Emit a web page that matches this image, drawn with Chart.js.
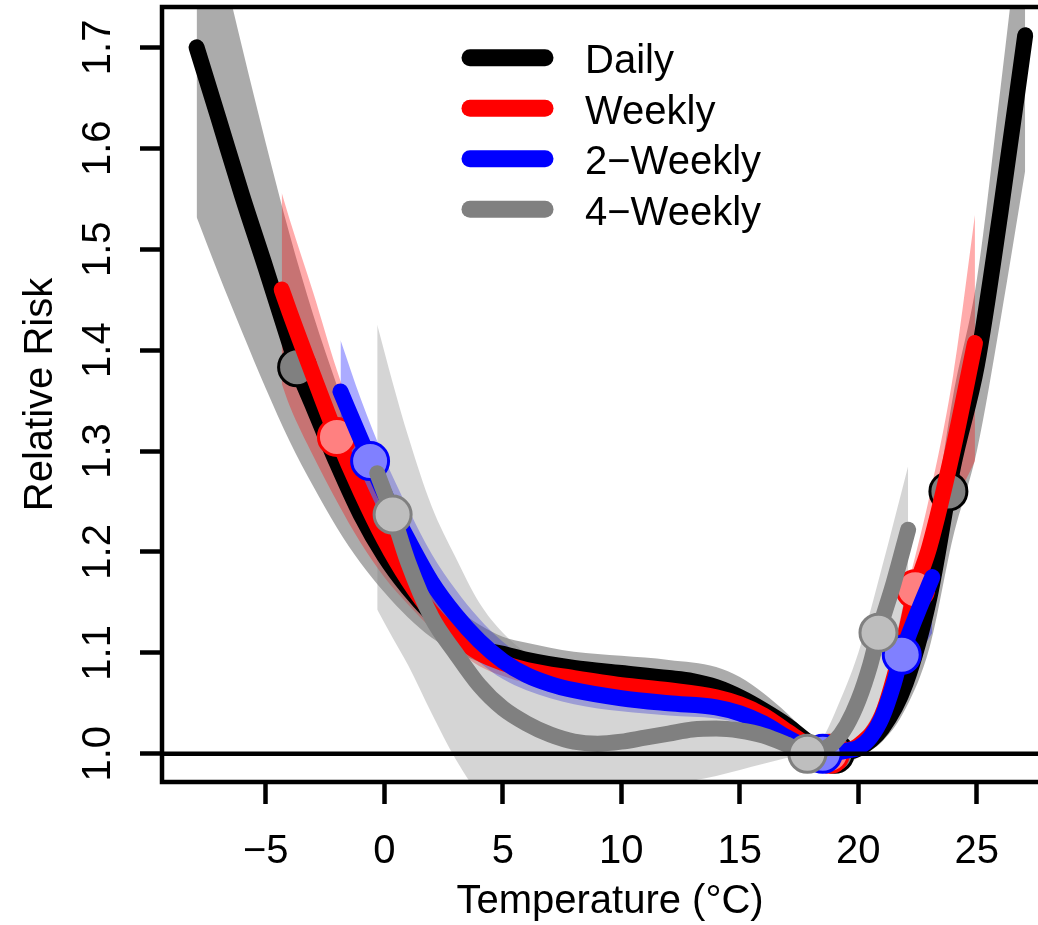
<!DOCTYPE html>
<html>
<head>
<meta charset="utf-8">
<title>Relative Risk by Temperature</title>
<script src="https://cdn.jsdelivr.net/npm/chart.js@4.4.1/dist/chart.umd.min.js"></script>
<style>
	html, body { margin: 0; padding: 0; background: #fff; }
	#chart { display: block; }
</style>
</head>
<body>
<canvas id="chart" width="1038" height="925"></canvas>
<script>
	// Axis ticks
	const xTicks      = [-5, 0, 5, 10, 15, 20, 25];
	const xTickLabels = ['\u22125', '0', '5', '10', '15', '20', '25'];
	const yTicks      = [1.0, 1.1, 1.2, 1.3, 1.4, 1.5, 1.6, 1.7];
	const yTickLabels = ['1.0', '1.1', '1.2', '1.3', '1.4', '1.5', '1.6', '1.7'];
	const refRR       = 1.0;

	const seriesNames = ['Daily', 'Weekly', '2\u2212Weekly', '4\u2212Weekly'];

	// Daily
	const dailyX  = [-7.92, -7, -6, -5, -4, -3.68, -3, -2, -1, 0, 1, 2, 3, 4, 5, 6, 8, 10, 12, 13, 14, 15, 16, 17, 18, 19, 20, 21, 22, 23, 24, 25, 26, 27.04];
	const dailyRR = [1.700, 1.630, 1.553, 1.481, 1.407, 1.383, 1.344, 1.288, 1.237, 1.196, 1.164, 1.138, 1.117, 1.104, 1.099, 1.093, 1.085, 1.080, 1.075, 1.072, 1.066, 1.056, 1.043, 1.028, 1.010, 1.000, 1.005, 1.025, 1.070, 1.155, 1.285, 1.385, 1.537, 1.712];
	const dailyBandX  = [-7.92, -7, -6, -5, -4, -3, -2, -1, 0, 1, 2, 3, 4, 5, 6, 8, 10, 12, 14, 15, 16, 17, 18, 19, 20, 21, 22, 23, 24, 25, 26, 27.04];
	const dailyLow    = [1.532, 1.476, 1.418, 1.362, 1.310, 1.265, 1.224, 1.189, 1.160, 1.135, 1.115, 1.101, 1.091, 1.084, 1.079, 1.071, 1.065, 1.060, 1.050, 1.040, 1.028, 1.015, 1.004, 1.000, 1.000, 1.012, 1.045, 1.105, 1.215, 1.300, 1.430, 1.578];
	const dailyHigh   = [1.900, 1.800, 1.700, 1.605, 1.515, 1.435, 1.365, 1.300, 1.245, 1.200, 1.168, 1.145, 1.128, 1.116, 1.110, 1.101, 1.097, 1.093, 1.086, 1.076, 1.060, 1.040, 1.017, 1.000, 1.011, 1.040, 1.098, 1.208, 1.355, 1.470, 1.660, 1.870];
	const dailyMarkX  = [-3.68, 19.0, 23.8];
	const dailyMarkRR = [1.383, 1.0, 1.26];

	// Weekly
	const weeklyX  = [-4.33, -4, -3, -2, -1, 0, 1, 2, 3, 4, 5, 6, 8, 10, 12, 14, 15, 16, 17, 18, 18.8, 19.5, 20, 21, 22, 22.4, 23, 24, 24.92];
	const weeklyRR = [1.460, 1.438, 1.375, 1.314, 1.260, 1.212, 1.172, 1.140, 1.117, 1.100, 1.090, 1.083, 1.075, 1.068, 1.063, 1.056, 1.049, 1.038, 1.022, 1.007, 1.000, 1.003, 1.008, 1.038, 1.120, 1.162, 1.205, 1.302, 1.407];
	const weeklyBandX = [-4.33, -4, -3, -2, -1, 0, 1, 2, 3, 4, 5, 6, 8, 10, 12, 14, 15, 16, 17, 18, 18.8, 19.5, 20, 21, 22, 23, 24, 24.92];
	const weeklyLow   = [1.367, 1.345, 1.295, 1.250, 1.209, 1.175, 1.148, 1.124, 1.104, 1.087, 1.077, 1.070, 1.062, 1.055, 1.050, 1.044, 1.038, 1.028, 1.015, 1.003, 1.000, 0.999, 1.000, 1.018, 1.085, 1.160, 1.242, 1.290];
	const weeklyHigh  = [1.556, 1.530, 1.457, 1.380, 1.313, 1.251, 1.198, 1.158, 1.131, 1.114, 1.103, 1.096, 1.088, 1.081, 1.077, 1.069, 1.061, 1.049, 1.030, 1.011, 1.000, 1.007, 1.016, 1.060, 1.158, 1.255, 1.375, 1.534];
	const weeklyMarkX  = [-2.0, 18.8, 22.4];
	const weeklyMarkRR = [1.314, 1.0, 1.163];

	// 2-Weekly
	const weekly2X  = [-1.85, -1, -0.6, 0, 1, 2, 3, 4, 5, 6, 7, 8, 10, 12, 14, 15, 16, 17, 18, 18.5, 19, 19.5, 20, 20.5, 21, 21.5, 21.83, 22.5, 23.12];
	const weekly2RR = [1.359, 1.312, 1.290, 1.258, 1.212, 1.170, 1.138, 1.112, 1.092, 1.078, 1.069, 1.063, 1.055, 1.050, 1.046, 1.040, 1.030, 1.016, 1.004, 1.000, 1.001, 1.003, 1.006, 1.016, 1.036, 1.070, 1.098, 1.140, 1.175];
	const weekly2BandX = [-1.85, -1, 0, 1, 2, 3, 4, 5, 6, 8, 10, 12, 14, 15, 16, 17, 18, 18.5, 19, 20, 21, 22, 23.12];
	const weekly2Low   = [1.310, 1.272, 1.224, 1.182, 1.144, 1.114, 1.091, 1.074, 1.063, 1.049, 1.042, 1.038, 1.035, 1.030, 1.022, 1.011, 1.002, 1.000, 0.998, 0.999, 1.018, 1.075, 1.120];
	const weekly2High  = [1.410, 1.352, 1.293, 1.243, 1.198, 1.163, 1.134, 1.111, 1.095, 1.078, 1.068, 1.062, 1.058, 1.050, 1.038, 1.021, 1.006, 1.000, 1.004, 1.014, 1.056, 1.140, 1.232];
	const weekly2MarkX  = [-0.6, 18.5, 21.83];
	const weekly2MarkRR = [1.290, 1.0, 1.098];

	// 4-Weekly
	const weekly4X  = [-0.3, 0.35, 1, 2, 3, 4, 5, 6, 7, 8, 9, 10, 11, 12, 13, 14, 15, 16, 17, 17.85, 18.5, 19, 19.5, 20, 20.5, 20.85, 21.5, 22.1];
	const weekly4RR = [1.278, 1.237, 1.190, 1.135, 1.100, 1.068, 1.045, 1.030, 1.019, 1.012, 1.010, 1.012, 1.016, 1.020, 1.024, 1.025, 1.023, 1.018, 1.009, 1.000, 1.004, 1.012, 1.028, 1.053, 1.088, 1.120, 1.170, 1.222];
	const weekly4BandX = [-0.3, 0.35, 1, 2, 3, 4, 5, 6, 8, 10, 12, 13, 14, 15, 16, 17, 17.85, 18.5, 19, 20, 21, 22.1];
	const weekly4Low   = [1.143, 1.115, 1.088, 1.040, 0.995, 0.960, 0.940, 0.930, 0.925, 0.935, 0.965, 0.973, 0.978, 0.984, 0.990, 0.996, 1.000, 0.990, 0.985, 0.998, 1.045, 1.165];
	const weekly4High  = [1.425, 1.368, 1.315, 1.245, 1.195, 1.150, 1.120, 1.100, 1.080, 1.072, 1.068, 1.066, 1.063, 1.058, 1.045, 1.022, 1.000, 1.016, 1.040, 1.100, 1.185, 1.285];
	const weekly4MarkX  = [0.35, 17.85, 20.85];
	const weekly4MarkRR = [1.237, 1.0, 1.120];

	const lineColors   = ['#000000', '#FF0000', '#0000FF', '#808080'];
	const bandColors   = ['rgba(0,0,0,0.33)', 'rgba(255,0,0,0.33)', 'rgba(0,0,255,0.33)', 'rgba(128,128,128,0.33)'];
	const markFills    = ['#808080', '#FF8080', '#8080FF', '#BEBEBE'];
	const markBorders  = ['#000000', '#FF0000', '#0000FF', '#808080'];

	const FONT = '40px "Liberation Sans", Arial, Helvetica, sans-serif';

	function pts(xs, ys) {
		return xs.map( (v, i) => ({ x: v, y: ys[i] }) );
	}

	const series = [
		{ x: dailyX, rr: dailyRR, bx: dailyBandX, lo: dailyLow, hi: dailyHigh, mx: dailyMarkX, mr: dailyMarkRR },
		{ x: weeklyX, rr: weeklyRR, bx: weeklyBandX, lo: weeklyLow, hi: weeklyHigh, mx: weeklyMarkX, mr: weeklyMarkRR },
		{ x: weekly2X, rr: weekly2RR, bx: weekly2BandX, lo: weekly2Low, hi: weekly2High, mx: weekly2MarkX, mr: weekly2MarkRR },
		{ x: weekly4X, rr: weekly4RR, bx: weekly4BandX, lo: weekly4Low, hi: weekly4High, mx: weekly4MarkX, mr: weekly4MarkRR }
	];

	// higher order = drawn first (underneath)
	const datasets = [];
	series.forEach( (s, i) => {
		datasets.push({
			label: seriesNames[i] + ' low',
			data: pts( s.bx, s.lo ),
			showLine: true,
			borderWidth: 0,
			borderColor: 'transparent',
			pointRadius: 0,
			cubicInterpolationMode: 'monotone',
			fill: false,
			order: 40 - i
		});
		datasets.push({
			label: seriesNames[i] + ' high',
			data: pts( s.bx, s.hi ),
			showLine: true,
			borderWidth: 0,
			borderColor: 'transparent',
			pointRadius: 0,
			cubicInterpolationMode: 'monotone',
			fill: '-1',
			backgroundColor: bandColors[i],
			order: 40 - i
		});
	});
	series.forEach( (s, i) => {
		datasets.push({
			label: seriesNames[i],
			data: pts( s.x, s.rr ),
			showLine: true,
			borderWidth: 16,
			borderColor: lineColors[i],
			borderCapStyle: 'round',
			borderJoinStyle: 'round',
			pointRadius: 0,
			cubicInterpolationMode: 'monotone',
			fill: false,
			order: 20 - i * 2
		});
		datasets.push({
			label: seriesNames[i] + ' points',
			data: pts( s.mx, s.mr ),
			showLine: false,
			pointRadius: 18.5,
			pointBorderWidth: 3,
			pointBackgroundColor: markFills[i],
			pointBorderColor: markBorders[i],
			order: 19 - i * 2
		});
	});

	// R-style frame, labels and legend
	const rPlot = {
		id: 'rPlot',
		afterDatasetsDraw(chart) {
			const ctx = chart.ctx;
			const a   = chart.chartArea;
			const xs  = chart.scales.x;
			const ys  = chart.scales.y;

			ctx.save();
			ctx.strokeStyle = '#000';
			ctx.lineWidth   = 4.5;
			ctx.lineCap     = 'butt';

			// reference line
			const y1 = ys.getPixelForValue( refRR );
			ctx.beginPath();
			ctx.moveTo( a.left, y1 );
			ctx.lineTo( a.right, y1 );
			ctx.stroke();

			// box (right side is off the picture)
			ctx.beginPath();
			ctx.moveTo( a.right, a.top );
			ctx.lineTo( a.left, a.top );
			ctx.lineTo( a.left, a.bottom );
			ctx.lineTo( a.right, a.bottom );
			ctx.stroke();

			ctx.fillStyle    = '#000';
			ctx.font         = FONT;
			ctx.textAlign    = 'center';
			ctx.textBaseline = 'alphabetic';

			xTicks.forEach( (v, i) => {
				ctx.fillText( xTickLabels[i], xs.getPixelForValue( v ), 863 );
			});
			yTicks.forEach( (v, i) => {
				ctx.save();
				ctx.translate( 110, ys.getPixelForValue( v ) );
				ctx.rotate( -Math.PI / 2 );
				ctx.fillText( yTickLabels[i], 0, 0 );
				ctx.restore();
			});

			// axis titles
			ctx.fillText( 'Temperature (\u00B0C)', 610, 913 );
			ctx.save();
			ctx.translate( 52, (a.top + a.bottom) / 2 );
			ctx.rotate( -Math.PI / 2 );
			ctx.fillText( 'Relative Risk', 0, 0 );
			ctx.restore();

			// legend
			ctx.textAlign = 'left';
			ctx.lineCap   = 'round';
			ctx.lineWidth = 17;
			seriesNames.forEach( (name, i) => {
				const ly = 57.7 + i * 50.5;
				ctx.strokeStyle = lineColors[i];
				ctx.beginPath();
				ctx.moveTo( 470, ly );
				ctx.lineTo( 545, ly );
				ctx.stroke();
				ctx.fillText( name, 585, ly + 15.5 );
			});
			ctx.restore();
		}
	};

	const tickGrid = {
		display: true,
		drawOnChartArea: false,
		drawTicks: true,
		tickLength: 22,
		tickWidth: 4.5,
		tickColor: '#000'
	};

	new Chart(
		document.getElementById( 'chart' ),
		{
			type: 'scatter',
			data: { datasets: datasets },
			options: {
				responsive: false,
				animation: false,
				events: [],
				devicePixelRatio: 1,
				layout: { autoPadding: false, padding: { top: 7, right: 0, bottom: 0, left: 0 } },
				plugins: {
					legend: { display: false },
					tooltip: { enabled: false }
				},
				scales: {
					x: {
						type: 'linear',
						min: -9.38,
						max: 27.58,
						bounds: 'data',
						ticks: { display: false },
						grid: tickGrid,
						border: { display: false },
						afterBuildTicks: function (scale) {
							scale.ticks = xTicks.map( v => ({ value: v }) );
						},
						afterFit: function (scale) {
							scale.height = 143;
						}
					},
					y: {
						type: 'linear',
						min: 0.972,
						max: 1.74,
						bounds: 'data',
						ticks: { display: false },
						grid: tickGrid,
						border: { display: false },
						afterBuildTicks: function (scale) {
							scale.ticks = yTicks.map( v => ({ value: v }) );
						},
						afterFit: function (scale) {
							scale.width = 162;
						}
					}
				}
			},
			plugins: [rPlot]
		}
	);
</script>
</body>
</html>
